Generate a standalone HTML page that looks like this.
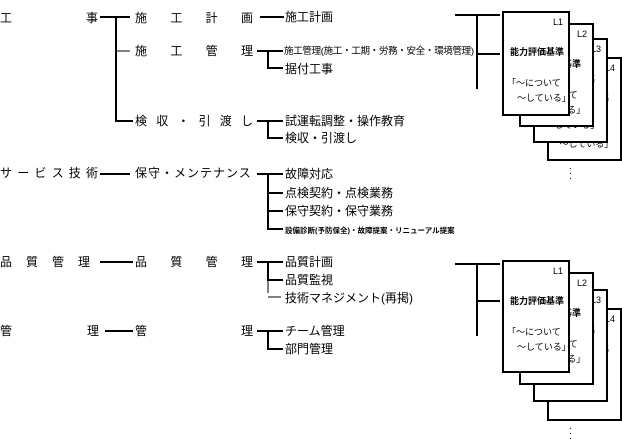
<!DOCTYPE html>
<html><head><meta charset="utf-8"><style>
body{margin:0;background:#fff;width:622px;height:446px;position:relative;overflow:hidden;font-family:"Liberation Sans","Noto Sans CJK JP",sans-serif;color:#000}
.t{position:absolute;font-size:12px;line-height:14px;white-space:nowrap}
.sp{position:absolute;font-size:12px;line-height:14px;display:flex;justify-content:space-between}
svg{position:absolute;left:0;top:0}
.box{position:absolute;background:#fff;border:2px solid #000;box-sizing:border-box;overflow:hidden;font-size:9px;white-space:nowrap}
.box .l{position:absolute;right:5px;top:4px}
.box .h{position:absolute;left:6px;top:32px;font-weight:bold}
.box .q{position:absolute;left:3px;top:63px;line-height:15px}
</style></head><body>
<svg width="622" height="446" stroke="#000" fill="none">
<g stroke-width="2">
<path d="M100 17H130M116 17V121H133M260 17H284"/>
<path d="M257 51H283M268 51V68H283"/>
<path d="M257 121H283M268 121V138H283"/>
<path d="M100 174H130M257 174H283M268 174V229H283M268 193H283M268 211H283"/>
<path d="M100 262H133M257 262H283M268 262V280H283"/>
<path d="M105 331H133M257 331H283M268 331V349H283"/>
<path d="M455 15H500M477 15V89M477 54H500"/>
<path d="M455 264H500M477 264V336M477 301H500"/>
</g>
<path d="M116 51H130M268 280V293M268 297H281" stroke-width="1"/>
</svg>
<div class="t" style="left:0;top:11px">工</div><div class="t" style="left:86px;top:11px">事</div>
<div class="sp" style="left:135px;top:11px;width:118px"><span>施</span><span>工</span><span>計</span><span>画</span></div>
<div class="t" style="left:285px;top:10px">施工計画</div>
<div class="sp" style="left:135px;top:44px;width:118px"><span>施</span><span>工</span><span>管</span><span>理</span></div>
<div class="t" style="left:284px;top:45px;font-size:9.5px;letter-spacing:-0.3px">施工管理(施工・工期・労務・安全・環境管理)</div>
<div class="t" style="left:285px;top:62px">据付工事</div>
<div class="sp" style="left:135px;top:114px;width:118px"><span>検</span><span>収</span><span>・</span><span>引</span><span>渡</span><span>し</span></div>
<div class="t" style="left:285px;top:114px">試運転調整・操作教育</div>
<div class="t" style="left:285px;top:131px">検収・引渡し</div>
<div class="sp" style="left:0;top:166px;width:98px"><span>サ</span><span>ー</span><span>ビ</span><span>ス</span><span>技</span><span>術</span></div>
<div class="t" style="left:135px;top:166px;letter-spacing:1px">保守・メンテナンス</div>
<div class="t" style="left:285px;top:167px">故障対応</div>
<div class="t" style="left:285px;top:186px">点検契約・点検業務</div>
<div class="t" style="left:285px;top:204px">保守契約・保守業務</div>
<div class="t" style="left:285px;top:224px;font-size:7.5px;font-weight:bold">設備診断(予防保全)・故障提案・リニューアル提案</div>
<div class="sp" style="left:0;top:255px;width:90px"><span>品</span><span>質</span><span>管</span><span>理</span></div>
<div class="sp" style="left:135px;top:255px;width:118px"><span>品</span><span>質</span><span>管</span><span>理</span></div>
<div class="t" style="left:285px;top:255px">品質計画</div>
<div class="t" style="left:285px;top:273px">品質監視</div>
<div class="t" style="left:285px;top:291px">技術マネジメント(再掲)</div>
<div class="t" style="left:0;top:324px">管</div><div class="t" style="left:87px;top:324px">理</div>
<div class="t" style="left:135px;top:324px">管</div><div class="t" style="left:241px;top:324px">理</div>
<div class="t" style="left:285px;top:324px">チーム管理</div>
<div class="t" style="left:285px;top:342px">部門管理</div>

<div class="box" style="left:547px;top:57px;width:75px;height:104px"><span class="l">L4</span><span class="h">能力評価基準</span><span class="q">「〜について<br>&nbsp;&nbsp;&nbsp;〜している」</span></div>
<div class="box" style="left:533px;top:38px;width:75px;height:105px"><span class="l">L3</span><span class="h">能力評価基準</span><span class="q">「〜について<br>&nbsp;&nbsp;&nbsp;〜している」</span></div>
<div class="box" style="left:519px;top:23px;width:75px;height:104px"><span class="l">L2</span><span class="h">能力評価基準</span><span class="q">「〜について<br>&nbsp;&nbsp;&nbsp;〜している」</span></div>
<div class="box" style="left:502px;top:11px;width:68px;height:105px"><span class="l">L1</span><span class="h">能力評価基準</span><span class="q">「〜について<br>&nbsp;&nbsp;&nbsp;&nbsp;〜している」</span></div>
<div class="t" style="left:569px;top:164px;font-size:10px;line-height:5px">.<br>.<br>.</div>

<div class="box" style="left:547px;top:308px;width:75px;height:113px"><span class="l">L4</span><span class="h">能力評価基準</span><span class="q">「〜について<br>&nbsp;&nbsp;&nbsp;〜している」</span></div>
<div class="box" style="left:533px;top:289px;width:75px;height:113px"><span class="l">L3</span><span class="h">能力評価基準</span><span class="q">「〜について<br>&nbsp;&nbsp;&nbsp;〜している」</span></div>
<div class="box" style="left:519px;top:272px;width:75px;height:113px"><span class="l">L2</span><span class="h">能力評価基準</span><span class="q">「〜について<br>&nbsp;&nbsp;&nbsp;〜している」</span></div>
<div class="box" style="left:502px;top:260px;width:68px;height:113px"><span class="l">L1</span><span class="h">能力評価基準</span><span class="q">「〜について<br>&nbsp;&nbsp;&nbsp;&nbsp;〜している」</span></div>
<div class="t" style="left:569px;top:424px;font-size:10px;line-height:5px">.<br>.<br>.</div>
</body></html>
